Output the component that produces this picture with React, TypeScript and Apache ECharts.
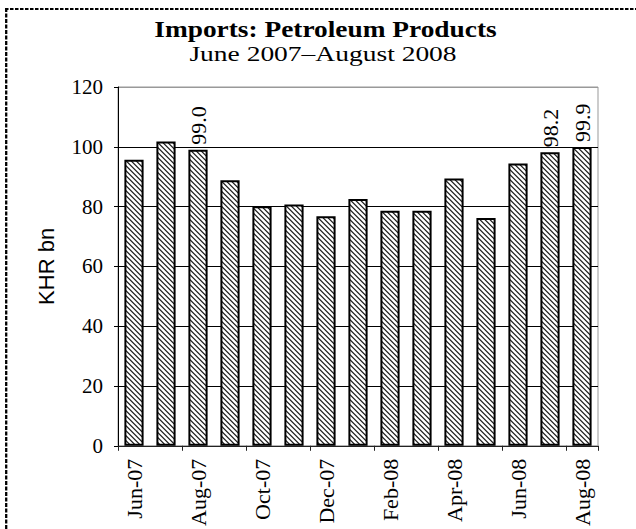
import React, { useEffect, useRef } from "react";
import * as echarts from "echarts";

const months = [
  "Jun-07", "Jul-07", "Aug-07", "Sep-07", "Oct-07", "Nov-07", "Dec-07", "Jan-08",
  "Feb-08", "Mar-08", "Apr-08", "May-08", "Jun-08", "Jul-08", "Aug-08",
];
const imports = [95.7, 101.8, 99.0, 88.8, 80.1, 80.7, 76.8, 82.5, 78.6, 78.6, 89.4, 76.2, 94.4, 98.2, 99.9];
const labelledMonths = ["Aug-07", "Jul-08", "Aug-08"];
const yTicks = { min: 0, max: 120, interval: 20 };
const titleText = "Imports: Petroleum Products";
const subtitleText = "June 2007\u2013August 2008";
const yName = "KHR bn";

function makeHatch(): HTMLCanvasElement {
  const c = document.createElement("canvas");
  const n = 5;
  c.width = n;
  c.height = n;
  const ctx = c.getContext("2d")!;
  const img = ctx.createImageData(n, n);
  const shades = [45, 115, 255, 255, 215];
  for (let y = 0; y < n; y++) {
    for (let x = 0; x < n; x++) {
      const k = (((x - y) % n) + n) % n;
      const v = shades[k];
      const i = (y * n + x) * 4;
      img.data[i] = v;
      img.data[i + 1] = v;
      img.data[i + 2] = v;
      img.data[i + 3] = 255;
    }
  }
  ctx.putImageData(img, 0, 0);
  return c;
}

export default function App() {
  const ref = useRef<HTMLDivElement>(null);
  useEffect(() => {
    document.body.style.margin = "0";
    const chart = echarts.init(ref.current!, null, { renderer: "svg" });
    const hatch = makeHatch();
    const serif = "'Liberation Serif', 'Times New Roman', Times, serif";
    const sans = "'Liberation Sans', Arial, Helvetica, sans-serif";
    const data = imports.map((v, i) => ({
      value: v,
      label: { show: labelledMonths.includes(months[i]) },
    }));
    chart.setOption({
      animation: false,
      backgroundColor: "#fff",
      grid: {
        left: 118,
        right: 38,
        top: 87,
        bottom: 80,
        show: true,
        borderColor: "#999",
        borderWidth: 1,
        backgroundColor: "#fff",
      },
      graphic: [
        {
          type: "line",
          shape: { x1: 5, y1: 9, x2: 636, y2: 9 },
          style: { stroke: "#000", lineWidth: 2, lineDash: [3.5, 1.5] },
        },
        {
          type: "line",
          shape: { x1: 6.2, y1: 8, x2: 6.2, y2: 529 },
          style: { stroke: "#000", lineWidth: 2.3, lineDash: [4, 1.5] },
        },
        {
          type: "text",
          x: 325.5,
          y: 29,
          scaleX: 1.19,
          style: {
            text: titleText,
            fontFamily: serif,
            fontSize: 23,
            fontWeight: "bold",
            fill: "#000",
            align: "center",
            verticalAlign: "middle",
          },
        },
        {
          type: "text",
          x: 323,
          y: 53,
          scaleX: 1.25,
          style: {
            text: subtitleText,
            fontFamily: serif,
            fontSize: 22,
            fill: "#000",
            align: "center",
            verticalAlign: "middle",
          },
        },
      ],
      xAxis: {
        type: "category",
        data: months,
        boundaryGap: true,
        axisLine: { show: true, lineStyle: { color: "#222", width: 1 } },
        axisTick: { show: true, interval: 1, length: 5, lineStyle: { color: "#222" } },
        axisLabel: {
          interval: 1,
          rotate: 90,
          margin: 13,
          fontFamily: serif,
          fontSize: 22,
          color: "#000",
        },
        splitLine: { show: false },
      },
      yAxis: {
        type: "value",
        min: yTicks.min,
        max: yTicks.max,
        interval: yTicks.interval,
        name: yName,
        nameLocation: "middle",
        nameGap: 61,
        nameTextStyle: { fontFamily: sans, fontSize: 22, color: "#000" },
        axisLine: { show: true, lineStyle: { color: "#000", width: 1 } },
        axisTick: { show: true, length: 4, lineStyle: { color: "#000" } },
        axisLabel: { margin: 15, fontFamily: serif, fontSize: 21, color: "#000" },
        splitLine: {
          show: true,
          lineStyle: {
            color: ["#000", "#000", "#000", "#000", "#000", "#000", "#999"],
            width: 1,
          },
        },
      },
      series: [
        {
          type: "bar",
          data,
          barCategoryGap: "40%",
          itemStyle: {
            color: { image: hatch, repeat: "repeat" },
            borderColor: "#000",
            borderWidth: 2,
          },
          label: {
            show: false,
            position: "top",
            distance: 5,
            rotate: 90,
            align: "left",
            verticalAlign: "middle",
            fontFamily: serif,
            fontSize: 22,
            color: "#000",
            formatter: (p: any) => Number(p.value).toFixed(1),
          },
        },
      ],
    });
    return () => chart.dispose();
  }, []);
  return (
    <div
      ref={ref}
      style={{ position: "fixed", left: 0, top: 0, width: 636, height: 529 }}
    />
  );
}
